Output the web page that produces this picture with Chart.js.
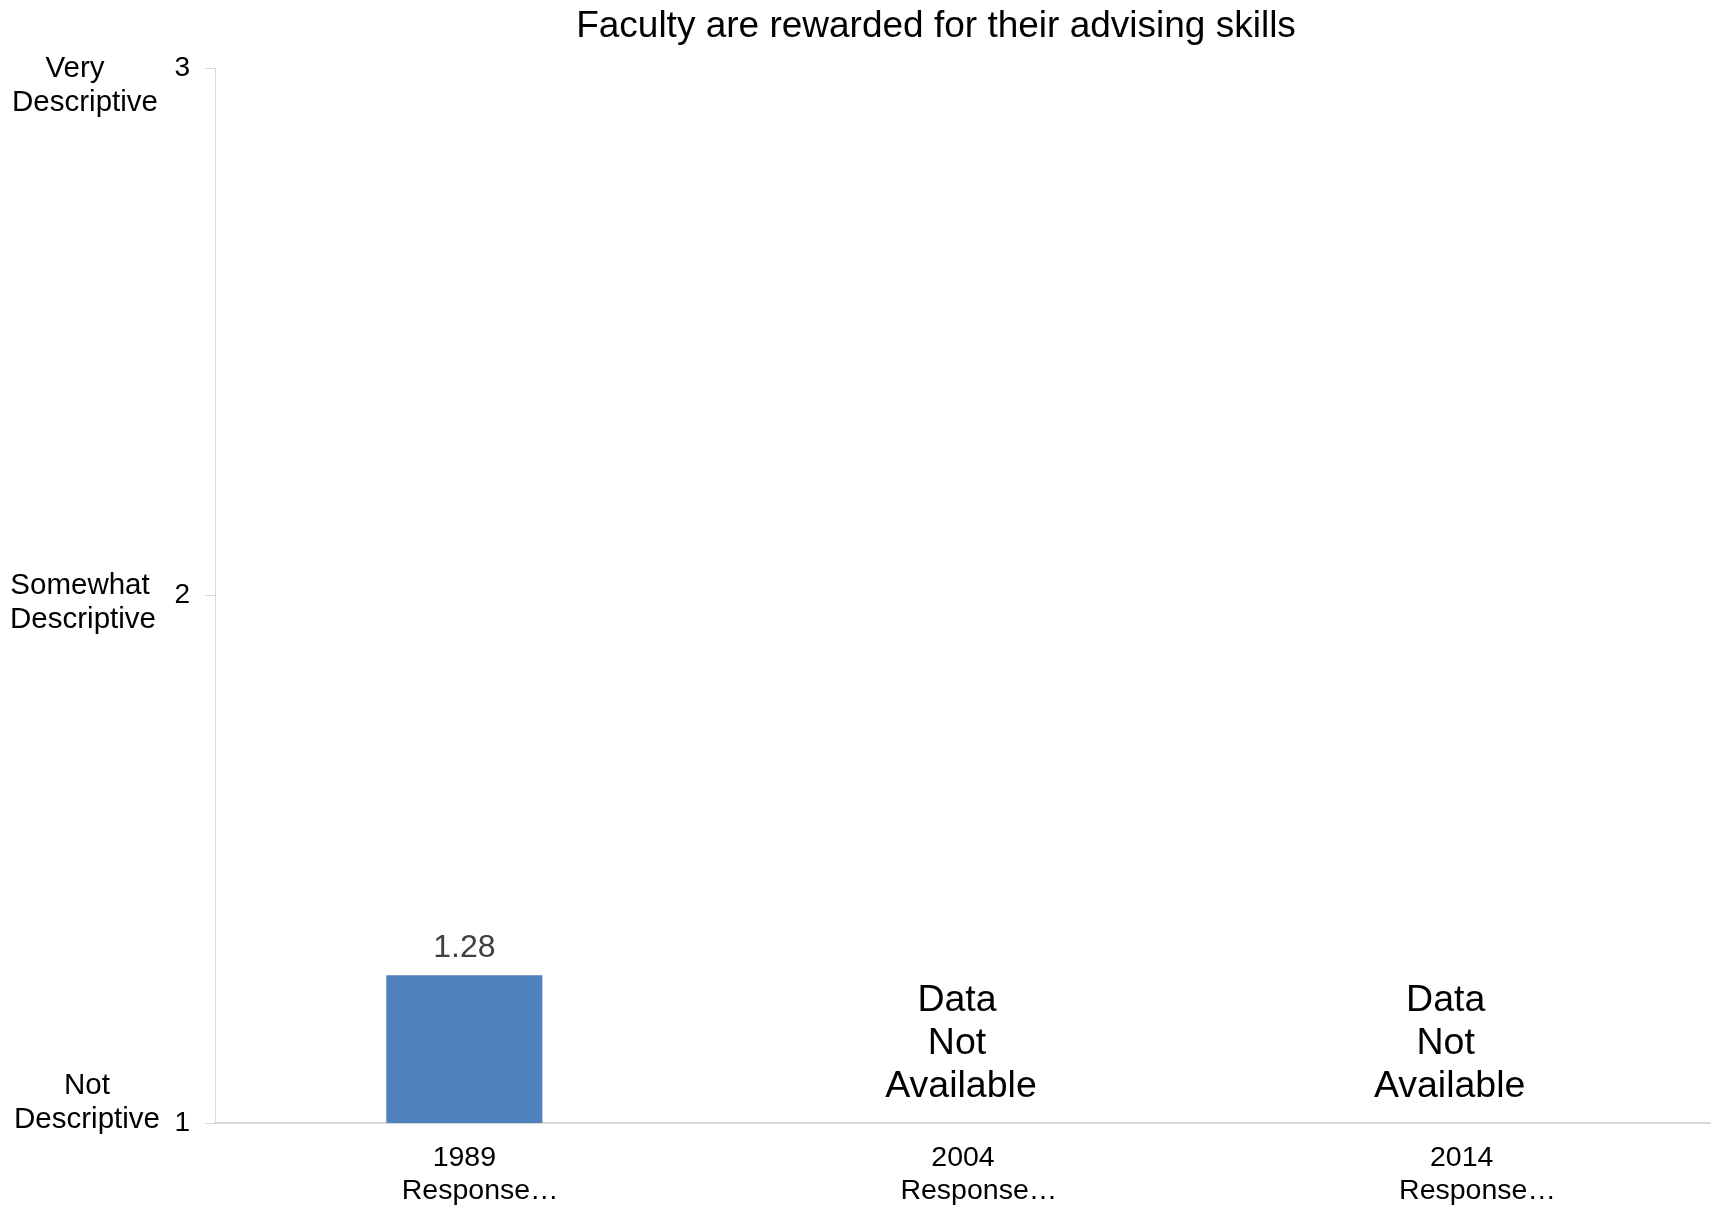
<!DOCTYPE html>
<html>
<head>
<meta charset="utf-8">
<script src="https://cdn.jsdelivr.net/npm/chart.js@4.4.1/dist/chart.umd.min.js"></script>
<style>
  body { margin: 0; background: #fff; }
</style>
</head>
<body>
<canvas id="barChart" width="1711" height="1209"></canvas>
<script>
// chart data
const titleText = 'Faculty are rewarded for their advising skills';
const years = [['1989', '    Response…'], ['2004', '    Response…'], ['2014', '    Response…']];
const meanScores = [1.28, null, null];
const missingText = ['Data', 'Not', 'Available'];
const scaleValues = [1, 2, 3];
const scaleNames = [['Not', 'Descriptive'], ['Somewhat', 'Descriptive'], ['Very', 'Descriptive']];

const FONT = "Arial, 'Liberation Sans', sans-serif";

// draws title, the descriptor labels, the value label and "Data Not Available"
const extrasPlugin = {
  id: 'extras',
  afterDraw(chart) {
    const ctx = chart.ctx;
    const area = chart.chartArea;
    const xScale = chart.scales.x;
    const yScale = chart.scales.y;
    ctx.save();
    ctx.textAlign = 'center';
    ctx.textBaseline = 'middle';

    // title
    ctx.fillStyle = '#000';
    ctx.font = '37px ' + FONT;
    ctx.fillText(titleText, (area.left + area.right) / 2 - 27, 27);

    // descriptor labels left of the tick numbers
    ctx.font = '29.5px ' + FONT;
    const firstLineOffset = [-37, -10, 1];
    const groupX = [87, 83, 85];
    const firstLineShift = [0, -3, -10];
    scaleValues.forEach((v, i) => {
      const y = yScale.getPixelForValue(v) + firstLineOffset[i];
      scaleNames[i].forEach((line, j) => {
        ctx.fillText(line, groupX[i] + (j === 0 ? firstLineShift[i] : 0), y + j * 34);
      });
    });

    // value labels / missing data text
    const missingShift = [0, -4, -14];
    meanScores.forEach((val, i) => {
      const x = xScale.getPixelForValue(i);
      if (val !== null) {
        const bar = chart.getDatasetMeta(0).data[i];
        ctx.fillStyle = '#404040';
        ctx.font = '32px ' + FONT;
        ctx.fillText(val.toFixed(2), x, bar.y - 27);
      } else {
        ctx.fillStyle = '#000';
        ctx.font = '37.5px ' + FONT;
        const base = yScale.getPixelForValue(1) - 36;
        for (let k = 0; k < missingText.length; k++) {
          const line = missingText[missingText.length - 1 - k];
          const dx = k === 0 ? 2 : -2;
          ctx.fillText(line, x + missingShift[i] + dx, base - k * 43);
        }
      }
    });
    ctx.restore();
  }
};

const config = {
  type: 'bar',
  data: {
    labels: years,
    datasets: [{
      data: meanScores,
      backgroundColor: '#4F81BD',
      borderWidth: 0,
      categoryPercentage: 1,
      barPercentage: 0.313
    }]
  },
  options: {
    responsive: false,
    animation: false,
    layout: { padding: { top: 68, right: 0, bottom: 0, left: 0 } },
    plugins: {
      legend: { display: false },
      title: { display: false },
      tooltip: { enabled: false }
    },
    scales: {
      x: {
        grid: { display: false },
        border: { display: true, color: '#d9d9d9', width: 2 },
        ticks: {
          color: '#000',
          font: { family: FONT, size: 28.5, lineHeight: 1.17 },
          padding: 10,
          maxRotation: 0,
          autoSkip: false
        },
        afterFit(scale) { scale.height = 86; }
      },
      y: {
        min: 1,
        max: 3,
        grid: { display: true, drawOnChartArea: false, drawTicks: true, tickLength: 10, color: '#d9d9d9' },
        border: { display: true, color: '#d9d9d9', width: 1 },
        ticks: {
          stepSize: 1,
          color: '#000',
          font: { family: FONT, size: 28 },
          padding: 15
        },
        afterFit(scale) { scale.width = 215; }
      }
    }
  },
  plugins: [extrasPlugin]
};

const ctx = document.getElementById('barChart').getContext('2d');
let barChart = new Chart(ctx, config);
</script>
</body>
</html>
